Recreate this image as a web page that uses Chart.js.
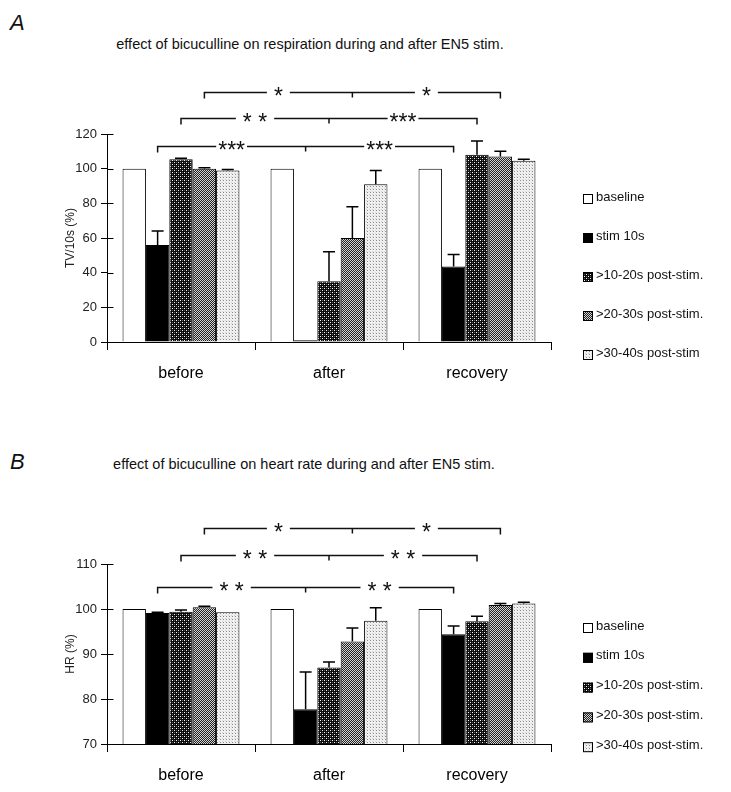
<!DOCTYPE html>
<html lang="en">
<head>
<meta charset="UTF-8">
<title>effect of bicuculline during and after EN5 stim.</title>
<script src="https://cdn.jsdelivr.net/npm/chart.js"></script>
<style>
    body {
        margin: 0;
        background: #fff;
        font-family: "Liberation Sans", Arial, sans-serif;
        color: #111;
    }
    .page { position: relative; width: 731px; height: 792px; overflow: hidden; }
    .letter { position: absolute; left: 10px; font-size: 22px; font-style: italic; }
    .title { position: absolute; left: 0; text-align: center; font-size: 14.5px; }
    canvas { position: absolute; left: 0; }
</style>
</head>
<body>
<div class="page">
    <div class="letter" style="top:10px;">A</div>
    <div class="title" style="top:36px; width:620px;">effect of bicuculline on respiration during and after EN5 stim.</div>
    <canvas id="chartA" width="731" height="310" style="top:80px;"></canvas>

    <div class="letter" style="top:449px;">B</div>
    <div class="title" style="top:456px; width:608px;">effect of bicuculline on heart rate during and after EN5 stim.</div>
    <canvas id="chartB" width="731" height="312" style="top:480px;"></canvas>
</div>

<script>
// categories and legend names
const groups = ['before', 'after', 'recovery'];
const namesA = ['baseline', 'stim 10s', '>10-20s post-stim.', '>20-30s post-stim.', '>30-40s post-stim'];
const namesB = ['baseline', 'stim 10s', '>10-20s post-stim.', '>20-30s post-stim.', '>30-40s post-stim.'];

// A: tidal volume per 10 s (%)
const tvBaseline = [100, 100, 100];
const tvStim = [56, 1, 43.5];
const tv1020 = [105.5, 35, 108];
const tv2030 = [100, 60, 107];
const tv3040 = [99, 91, 104.5];
const tvBaselineErr = [0, 0, 0];
const tvStimErr = [8, 0, 7];
const tv1020Err = [0.5, 17, 8];
const tv2030Err = [0.5, 18, 3];
const tv3040Err = [0.5, 8, 1];
const tvTicks = [0, 20, 40, 60, 80, 100, 120];

// B: heart rate (%)
const hrBaseline = [100, 100, 100];
const hrStim = [99.1, 77.7, 94.4];
const hr1020 = [99.4, 87, 97.3];
const hr2030 = [100.4, 92.8, 100.9];
const hr3040 = [99.3, 97.4, 101.2];
const hrBaselineErr = [0, 0, 0];
const hrStimErr = [0.2, 8.3, 1.8];
const hr1020Err = [0.4, 1.2, 1.1];
const hr2030Err = [0.2, 3, 0.3];
const hr3040Err = [0, 2.9, 0.3];
const hrTicks = [70, 80, 90, 100, 110];

// significance brackets: series index, height in axis units, marks
const sigA = [
    { series: 1, level: 113, marks: ['***', '***'] },
    { series: 2, level: 129, marks: ['* *', '***'] },
    { series: 3, level: 144, marks: ['*', '*'] }
];
const sigB = [
    { series: 1, level: 104.9, marks: ['* *', '* *'] },
    { series: 2, level: 111.9, marks: ['* *', '* *'] },
    { series: 3, level: 118.1, marks: ['*', '*'] }
];

function makePattern(ctx, size, bg, dots) {
    const c = document.createElement('canvas');
    c.width = size; c.height = size;
    const p = c.getContext('2d');
    p.fillStyle = bg;
    p.fillRect(0, 0, size, size);
    dots.forEach(d => {
        p.fillStyle = d[2];
        p.fillRect(d[0], d[1], 1, 1);
    });
    return ctx.createPattern(c, 'repeat');
}

function fills(ctx) {
    return [
        '#ffffff',
        '#000000',
        makePattern(ctx, 4, '#0c0c0c', [[0, 0, '#fff'], [2, 2, '#eee'], [2, 0, '#666'], [0, 2, '#555']]),
        makePattern(ctx, 2, '#222', [[0, 0, '#d4d4d4'], [1, 1, '#d4d4d4']]),
        makePattern(ctx, 3, '#f0f0f0', [[1, 1, '#8a8a8a'], [0, 0, '#d4d4d4']])
    ];
}

const errorBars = {
    id: 'errorBars',
    afterDraw(chart) {
        const ctx = chart.ctx;
        const y = chart.scales.y;
        ctx.save();
        ctx.strokeStyle = '#000';
        ctx.lineWidth = 1.5;
        chart.data.datasets.forEach((ds, i) => {
            chart.getDatasetMeta(i).data.forEach((bar, j) => {
                const e = ds.errs[j];
                if (!e) return;
                const top = y.getPixelForValue(ds.data[j] + e);
                ctx.beginPath();
                ctx.moveTo(bar.x, bar.y);
                ctx.lineTo(bar.x, top);
                ctx.moveTo(bar.x - 6, top);
                ctx.lineTo(bar.x + 6, top);
                ctx.stroke();
            });
        });
        ctx.restore();
    }
};

// the y ticks cross the axis line
const innerTicks = {
    id: 'innerTicks',
    afterDraw(chart) {
        const ctx = chart.ctx;
        const y = chart.scales.y;
        const x0 = Math.round(chart.chartArea.left) + 0.5;
        ctx.save();
        ctx.strokeStyle = '#000';
        ctx.lineWidth = 1;
        ctx.beginPath();
        y.ticks.forEach(t => {
            const py = Math.round(y.getPixelForValue(t.value)) + 0.5;
            ctx.moveTo(x0, py);
            ctx.lineTo(x0 + 6, py);
        });
        ctx.stroke();
        ctx.restore();
    }
};

const brackets = {
    id: 'brackets',
    afterDraw(chart, args, opts) {
        const ctx = chart.ctx;
        const yScale = chart.scales.y;
        ctx.save();
        ctx.strokeStyle = '#111';
        ctx.fillStyle = '#111';
        ctx.lineWidth = 1.5;
        ctx.font = '23px "Liberation Sans", Arial, sans-serif';
        ctx.textAlign = 'center';
        ctx.textBaseline = 'alphabetic';
        opts.items.forEach(it => {
            const xs = chart.getDatasetMeta(it.series).data.map(b => b.x);
            const y = Math.round(yScale.getPixelForValue(it.level)) + 0.5;
            const mids = [(xs[0] + xs[1]) / 2, (xs[1] + xs[2]) / 2];
            const gaps = it.marks.map(m => ctx.measureText(m).width / 2 + (m === '***' ? 2 : 7));
            ctx.beginPath();
            ctx.moveTo(xs[0], y + 6);
            ctx.lineTo(xs[0], y);
            ctx.lineTo(mids[0] - gaps[0], y);
            ctx.moveTo(mids[0] + gaps[0], y);
            ctx.lineTo(mids[1] - gaps[1], y);
            ctx.moveTo(mids[1] + gaps[1], y);
            ctx.lineTo(xs[2], y);
            ctx.lineTo(xs[2], y + 6);
            ctx.moveTo(xs[1], y);
            ctx.lineTo(xs[1], y + 5);
            ctx.stroke();
            it.marks.forEach((m, k) => ctx.fillText(m, mids[k], y + 11));
        });
        ctx.restore();
    }
};

const sideLegend = {
    id: 'sideLegend',
    afterDraw(chart, args, opts) {
        const ctx = chart.ctx;
        ctx.save();
        ctx.font = '13px "Liberation Sans", Arial, sans-serif';
        ctx.textBaseline = 'middle';
        ctx.textAlign = 'left';
        chart.data.datasets.forEach((ds, i) => {
            const y = opts.y0 + i * opts.step;
            ctx.fillStyle = ds.backgroundColor;
            ctx.fillRect(opts.x, y - 3, 10, 10);
            ctx.strokeStyle = '#000';
            ctx.lineWidth = 1;
            ctx.strokeRect(opts.x + 0.5, y - 2.5, 9, 9);
            ctx.fillStyle = '#111';
            ctx.fillText(ds.label, opts.x + 13, y);
        });
        ctx.restore();
    }
};

function makeChart(id, names, values, errs, ticks, yTitle, sig, legendPos) {
    const ctx = document.getElementById(id).getContext('2d');
    const f = fills(ctx);
    return new Chart(ctx, {
        type: 'bar',
        data: {
            labels: groups,
            datasets: names.map((n, i) => ({
                label: n,
                data: values[i],
                errs: errs[i],
                backgroundColor: f[i],
                borderColor: '#000',
                borderWidth: 1,
                barPercentage: 1,
                categoryPercentage: 0.79
            }))
        },
        options: {
            responsive: false,
            animation: false,
            layout: { padding: { left: 63, right: 180, top: legendPos.top, bottom: 8 } },
            plugins: {
                legend: { display: false },
                tooltip: { enabled: false },
                brackets: { items: sig },
                sideLegend: legendPos
            },
            scales: {
                x: {
                    grid: { display: true, drawOnChartArea: false, offset: true, tickLength: 8, color: '#000' },
                    border: { display: true, color: '#000', width: 1 },
                    ticks: { color: '#000', padding: 14, font: { size: 16, family: '"Liberation Sans", Arial, sans-serif' } },
                    afterFit(s) { s.height = 40; }
                },
                y: {
                    min: ticks[0],
                    max: ticks[ticks.length - 1],
                    ticks: { stepSize: ticks[1] - ticks[0], color: '#222', padding: 4, font: { size: 13, family: '"Liberation Sans", Arial, sans-serif' } },
                    grid: { drawOnChartArea: false, tickLength: 6, color: '#000' },
                    border: { display: true, color: '#000', width: 1 },
                    title: { display: true, text: yTitle, color: '#222', padding: 0, font: { size: 12, family: '"Liberation Sans", Arial, sans-serif' } },
                    afterFit(s) { s.width = 44; }
                }
            }
        },
        plugins: [errorBars, innerTicks, brackets, sideLegend]
    });
}

makeChart('chartA', namesA,
    [tvBaseline, tvStim, tv1020, tv2030, tv3040],
    [tvBaselineErr, tvStimErr, tv1020Err, tv2030Err, tv3040Err],
    tvTicks, 'TV/10s (%)', sigA, { top: 54, x: 583, y0: 117, step: 39 });

makeChart('chartB', namesB,
    [hrBaseline, hrStim, hr1020, hr2030, hr3040],
    [hrBaselineErr, hrStimErr, hr1020Err, hr2030Err, hr3040Err],
    hrTicks, 'HR (%)', sigB, { top: 84, x: 583, y0: 146, step: 29.8 });
</script>
</body>
</html>
